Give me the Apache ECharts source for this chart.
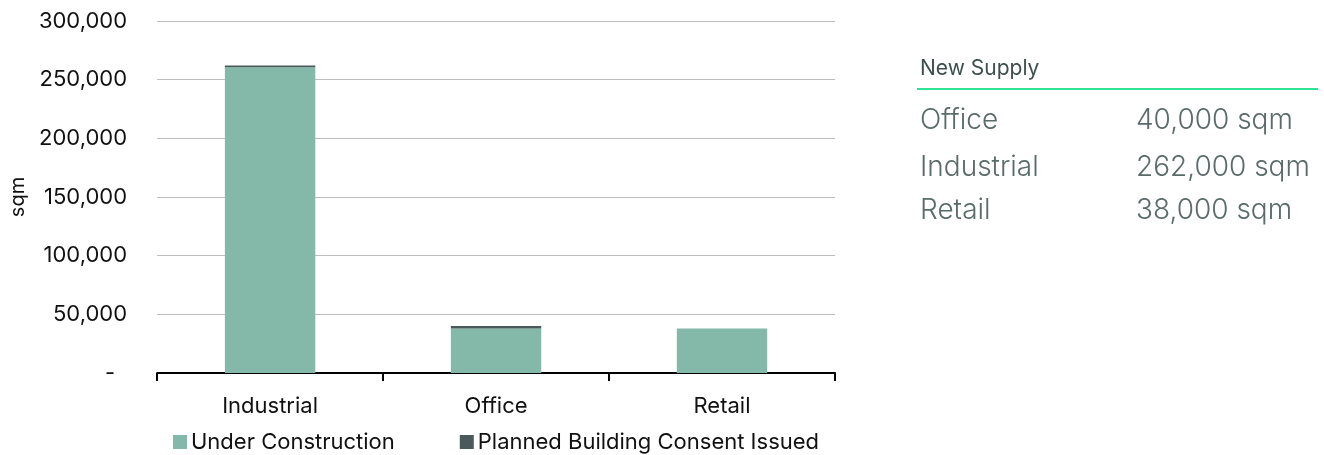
<!DOCTYPE html>
<html>
<head>
<meta charset="utf-8">
<script src="https://cdn.jsdelivr.net/npm/echarts@6/dist/echarts.min.js"></script>
<style>
  html, body { margin: 0; padding: 0; background: #ffffff; }
  #chart { width: 1324px; height: 455px; }
</style>
</head>
<body>
<div id="chart"></div>
<script>
// Sectors and floor area (sqm) by development stage
const categories = ['Industrial', 'Office', 'Retail'];
const underConstruction = [260500, 38000, 38000];
const plannedConsent = [1500, 2000, 0];
const seriesNames = ['Under Construction', 'Planned Building Consent Issued'];

// Side summary: order of the sectors listed under "New Supply"
const summaryTitle = 'New Supply';
const summaryOrder = ['Office', 'Industrial', 'Retail'];

const fontFamily = 'Inter, "Noto Sans", sans-serif';

function fmtThousands(v) {
  return Math.round(v).toString().replace(/\B(?=(\d{3})+(?!\d))/g, ',');
}

// totals per sector, rounded to the nearest thousand for the summary
const totals = {};
categories.forEach((c, i) => {
  totals[c] = Math.round((underConstruction[i] + plannedConsent[i]) / 1000) * 1000;
});

const summaryGraphics = [
  {
    type: 'text', left: 920, top: 58,
    style: { text: summaryTitle, fill: '#3f4f4f', font: '400 21px ' + fontFamily }
  },
  {
    type: 'rect', left: 917, top: 88,
    shape: { width: 401, height: 2 },
    style: { fill: '#2fe394' }
  }
];
const rowTops = [107, 154, 197];
summaryOrder.forEach((name, i) => {
  summaryGraphics.push({
    type: 'text', left: 920, top: rowTops[i],
    style: { text: name, fill: '#5b6b6b', font: '300 28px ' + fontFamily }
  });
  summaryGraphics.push({
    type: 'text', left: 1136, top: rowTops[i],
    style: { text: fmtThousands(totals[name]) + ' sqm', fill: '#5b6b6b', font: '300 28px ' + fontFamily }
  });
});

const chart = echarts.init(document.getElementById('chart'), null, { renderer: 'canvas' });
chart.setOption({
  animation: false,
  backgroundColor: '#ffffff',
  textStyle: { fontFamily: fontFamily },
  grid: { left: 157, right: 489, top: 21, bottom: 82, containLabel: false },
  legend: {
    left: 173, top: 431, padding: 0,
    itemWidth: 14, itemHeight: 14, itemGap: 65,
    icon: 'rect',
    textStyle: { fontSize: 22, color: '#111111', fontFamily: fontFamily, padding: [0, 0, 0, -1] },
    data: seriesNames
  },
  xAxis: {
    type: 'category',
    data: categories,
    axisLine: { show: true, lineStyle: { color: '#000000', width: 2 } },
    axisTick: { show: true, length: 8, lineStyle: { color: '#000000', width: 2 } },
    axisLabel: { fontSize: 22, color: '#111111', margin: 22 },
    splitLine: { show: false }
  },
  yAxis: {
    type: 'value',
    min: 0, max: 300000, interval: 50000,
    name: 'sqm',
    nameLocation: 'middle',
    nameGap: 128,
    nameRotate: 90,
    nameTextStyle: { fontSize: 20, color: '#111111' },
    axisLine: { show: false },
    axisTick: { show: false },
    axisLabel: {
      fontSize: 22, color: '#111111', margin: 30,
      // zero is shown as an accounting-style dash, set in from the right edge
      formatter: v => v === 0 ? '{zero|-}' : fmtThousands(v),
      rich: {
        zero: { fontSize: 22, color: '#111111', fontFamily: fontFamily, padding: [0, 12, 0, 0] }
      }
    },
    splitLine: { show: true, lineStyle: { color: '#bdbdbd', width: 1 } }
  },
  series: [
    {
      name: seriesNames[0], type: 'bar', stack: 'supply',
      data: underConstruction, barWidth: '40%',
      itemStyle: { color: '#84b9aa' }
    },
    {
      name: seriesNames[1], type: 'bar', stack: 'supply',
      data: plannedConsent, barWidth: '40%',
      itemStyle: { color: '#4a5959' }
    }
  ],
  graphic: summaryGraphics
});
</script>
</body>
</html>
